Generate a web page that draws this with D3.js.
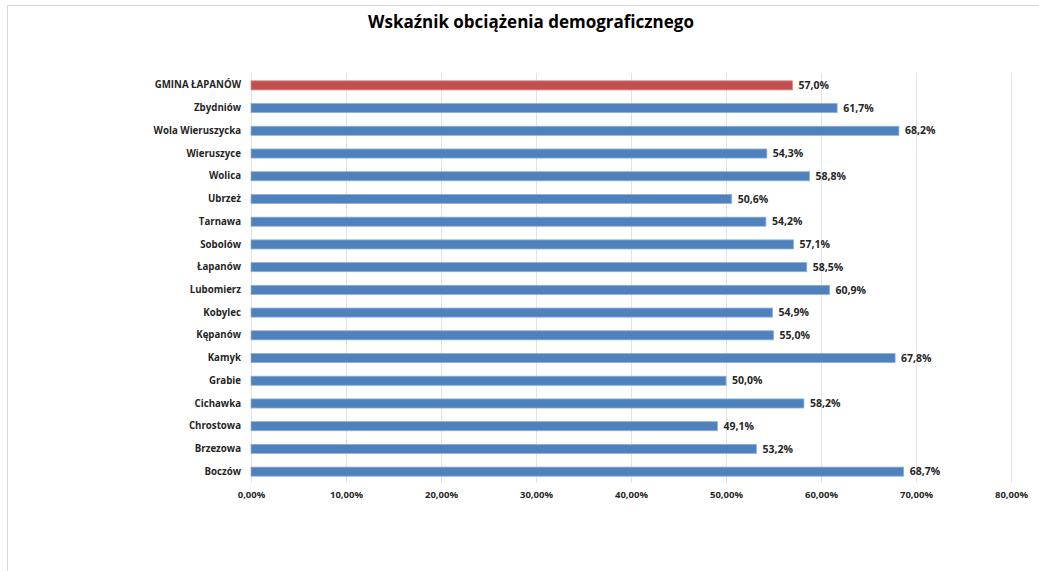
<!DOCTYPE html>
<html>
<head>
<meta charset="utf-8">
<script src="https://cdn.jsdelivr.net/npm/d3@7"></script>
<style>
  body { margin: 0; background: #fff; }
  svg text { font-family: "Open Sans", sans-serif; font-weight: bold; fill: #262626; }
</style>
</head>
<body>
<svg id="chart" width="1039" height="571"></svg>
<script>
// categories top to bottom
const places = ['GMINA ŁAPANÓW', 'Zbydniów', 'Wola Wieruszycka', 'Wieruszyce', 'Wolica', 'Ubrzeż',
    'Tarnawa', 'Sobolów', 'Łapanów', 'Lubomierz', 'Kobylec', 'Kępanów', 'Kamyk', 'Grabie',
    'Cichawka', 'Chrostowa', 'Brzezowa', 'Boczów']
const values = [57.0, 61.7, 68.2, 54.3, 58.8, 50.6, 54.2, 57.1, 58.5, 60.9, 54.9, 55.0, 67.8, 50.0,
    58.2, 49.1, 53.2, 68.7]
const ticks = [0, 10, 20, 30, 40, 50, 60, 70, 80]
const title = 'Wskaźnik obciążenia demograficznego'

const width = 1039,
    height = 571
const margin = { top: 74, bottom: 88, left: 251, right: 28 }

const svg = d3.select('#chart')

// outer frame
svg.append('rect')
    .attr('x', 7.5).attr('y', 5.5)
    .attr('width', width).attr('height', height)
    .attr('fill', 'none')
    .attr('stroke', '#d9d9d9')

svg.append('text')
    .attr('x', 531)
    .attr('y', 28)
    .attr('text-anchor', 'middle')
    .style('font-size', '17px')
    .style('fill', '#000')
    .text(title)

const x = d3.scaleLinear()
    .domain([0, 80])
    .range([margin.left, width - margin.right])

const y = d3.scaleBand()
    .domain(places)
    .range([margin.top, height - margin.bottom])
    .paddingInner(0.6)
    .paddingOuter(0.3)

// gridlines
svg.append('g')
    .selectAll('line')
    .data(ticks)
    .join('line')
      .attr('x1', d => Math.round(x(d)) + 0.5)
      .attr('x2', d => Math.round(x(d)) + 0.5)
      .attr('y1', margin.top - 1)
      .attr('y2', height - margin.bottom)
      .attr('stroke', '#e3e3e3')

// x axis labels
const xAxis = svg.append('g')
    .attr('transform', `translate(0,${height - margin.bottom})`)
    .call(d3.axisBottom(x).tickValues(ticks).tickSize(0).tickPadding(8)
        .tickFormat(d => d3.format('.2f')(d).replace('.', ',') + '%'))
xAxis.select('.domain').remove()
xAxis.selectAll('text').style('font-size', '9.5px')

// y axis labels
const yAxis = svg.append('g')
    .attr('transform', `translate(${margin.left},0)`)
    .call(d3.axisLeft(y).tickSize(0).tickPadding(10))
yAxis.select('.domain').remove()
yAxis.selectAll('text').style('font-size', '9.7px')

// bars
svg.append('g')
    .selectAll('rect')
    .data(places)
    .join('rect')
      .attr('x', x(0))
      .attr('y', d => y(d))
      .attr('height', y.bandwidth())
      .attr('width', (d, i) => x(values[i]) - x(0))
      .attr('fill', (d, i) => i === 0 ? '#c0504d' : '#4f81bd')
      .attr('stroke', (d, i) => i === 0 ? '#d98b89' : '#8fb0d8')
      .attr('stroke-width', 0.8)

// value labels
svg.append('g')
    .selectAll('text')
    .data(places)
    .join('text')
      .attr('x', (d, i) => x(values[i]) + 6)
      .attr('y', d => y(d) + y.bandwidth() / 2)
      .attr('dy', '0.35em')
      .style('font-size', '10.5px')
      .text((d, i) => d3.format('.1f')(values[i]).replace('.', ',') + '%')
</script>
</body>
</html>
